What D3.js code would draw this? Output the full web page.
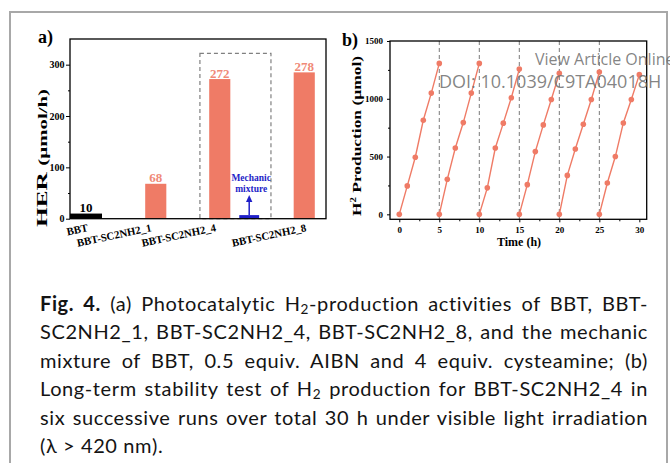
<!DOCTYPE html>
<html>
<head>
<meta charset="utf-8">
<script src="https://cdn.jsdelivr.net/npm/d3@7"></script>
<style>
  body { margin: 0; background: #fff; }
  #wrap { position: relative; width: 670px; height: 463px; overflow: hidden; background: #fff; }
  #wrap svg { position: absolute; left: 0; top: 0; }
  #caption { position: absolute; left: 40px; top: 289px; width: 608px;
             font-family: Lato, "Open Sans", sans-serif; font-size: 20px; letter-spacing: 0.6px; color: #141414; }
  #caption .ln { height: 28.4px; line-height: 28.4px; text-align: justify; text-align-last: justify; }
  #caption .ln.last { text-align-last: left; }
  #caption sub { font-size: 0.68em; vertical-align: -0.25em; line-height: 0; }
</style>
</head>
<body>
<div id="wrap"></div>
<script>
// ---- data: panel a ----
const categories = ["BBT", "BBT-SC2NH2_1", "BBT-SC2NH2_4", "BBT-SC2NH2_8"];
const herBars = [10, 68, 272, 285];          // bar heights as drawn
const herLabels = ["10", "68", "272", "278"]; // printed values
const mechanicValue = 7;
const yTicksA = [0, 100, 200, 300];

// ---- data: panel b ----
const runStarts = [0, 5, 10, 15, 20, 25];
const runHours = [0, 1, 2, 3, 4, 5];
const runValues = [
  [0, 246, 494, 814, 1049, 1306],
  [0, 303, 574, 794, 1049, 1306],
  [0, 229, 574, 789, 1009, 1257],
  [0, 257, 543, 774, 994, 1220],
  [0, 337, 566, 780, 994, 1231],
  [0, 271, 500, 791, 994, 1209]
];
const xTicksB = [0, 5, 10, 15, 20, 25, 30];
const yTicksB = [0, 500, 1000, 1500];

const captionLines = [
  "<b>Fig. 4.</b> (a) Photocatalytic H<sub>2</sub>-production activities of BBT, BBT-",
  "SC2NH2_1, BBT-SC2NH2_4, BBT-SC2NH2_8, and the mechanic",
  "mixture of BBT, 0.5 equiv. AIBN and 4 equiv. cysteamine; (b)",
  "Long-term stability test of H<sub>2</sub> production for BBT-SC2NH2_4 in",
  "six successive runs over total 30 h under visible light irradiation",
  "(\u03bb > 420 nm)."
];

const width = 670;
const height = 463;
const serif = "'Liberation Serif', 'Times New Roman', serif";
const salmon = "#EF7B66";
const salmonText = "#F08A78";

const svg = d3.select("#wrap")
  .append("svg")
  .attr("width", width)
  .attr("height", height);

//Card border
svg.append("rect")
  .attr("x", 10).attr("y", 12)
  .attr("width", 657).attr("height", 480)
  .attr("fill", "none")
  .attr("stroke", "#a8a8a8")
  .attr("stroke-width", 2);

// ================= panel a =================
const xSlots = [0.25, 1.34, 2.34, 3.66];   // category slot along x
const labelSlots = [0.29, 1.28, 2.29, 3.70];
const mechanicSlot = 2.8;
const xA = d3.scaleLinear().domain([0, 4]).range([70, 326]);
const yA = d3.scaleLinear().domain([0, 350]).range([218.7, 39]);

const gA = svg.append("g").attr("font-family", serif).attr("font-weight", "bold");

//dashed box around _4 and mechanic mixture
gA.append("rect")
  .attr("x", xA(2.03))
  .attr("y", yA(322))
  .attr("width", xA(3.14) - xA(2.03))
  .attr("height", yA(0) - yA(322))
  .attr("fill", "none")
  .attr("stroke", "#808080")
  .attr("stroke-width", 1.2)
  .attr("stroke-dasharray", "4,3");

const barData = categories.map((c, i) => ({
  name: c, value: herBars[i], label: herLabels[i], slot: xSlots[i],
  w: i === 0 ? 0.5 : 0.33, color: i === 0 ? "#000" : salmon,
  textColor: i === 0 ? "#000" : salmonText
}));

gA.selectAll(".bar")
  .data(barData)
  .join("rect")
  .attr("class", "bar")
  .attr("x", d => xA(d.slot - d.w / 2))
  .attr("width", d => xA(d.w) - xA(0))
  .attr("y", d => yA(d.value))
  .attr("height", d => yA(0) - yA(d.value))
  .attr("fill", d => d.color);

gA.selectAll(".val")
  .data(barData)
  .join("text")
  .attr("class", "val")
  .attr("x", d => xA(d.slot))
  .attr("y", d => yA(d.value) - 1.5)
  .attr("text-anchor", "middle")
  .attr("font-size", 13)
  .attr("fill", d => d.textColor)
  .text(d => d.label);

//Mechanic mixture
const blue = "#1F1FC8";
gA.append("rect")
  .attr("x", xA(mechanicSlot - 0.155))
  .attr("width", xA(0.31) - xA(0))
  .attr("y", yA(mechanicValue))
  .attr("height", yA(0) - yA(mechanicValue))
  .attr("fill", blue);
const mx = xA(mechanicSlot);
gA.append("line")
  .attr("x1", mx).attr("x2", mx)
  .attr("y1", yA(mechanicValue)).attr("y2", 200)
  .attr("stroke", blue).attr("stroke-width", 1.5);
gA.append("path")
  .attr("d", `M${mx},195 L${mx - 3.2},202 L${mx + 3.2},202 Z`)
  .attr("fill", blue);
gA.append("text").attr("x", mx + 2).attr("y", 181)
  .attr("text-anchor", "middle").attr("font-size", 9.5).attr("fill", blue)
  .text("Mechanic");
gA.append("text").attr("x", mx + 2).attr("y", 192)
  .attr("text-anchor", "middle").attr("font-size", 9.5).attr("fill", blue)
  .text("mixture");

//frame
gA.append("rect")
  .attr("x", 70).attr("y", 39)
  .attr("width", 256).attr("height", yA(0) - 39)
  .attr("fill", "none").attr("stroke", "#000").attr("stroke-width", 1.3);

//y axis
const axA = gA.append("g")
  .attr("transform", `translate(70,0)`)
  .call(d3.axisLeft(yA).tickValues(yTicksA).tickSize(4).tickPadding(1.5));
axA.select(".domain").remove();
axA.selectAll("text").attr("font-size", 10).attr("font-family", serif).attr("font-weight", "bold");
gA.append("g")
  .attr("transform", `translate(70,0)`)
  .call(d3.axisLeft(yA).tickValues([50, 150, 250]).tickSize(2).tickFormat(""))
  .select(".domain").remove();

//category labels
gA.selectAll(".cat")
  .data(barData)
  .join("text")
  .attr("class", "cat")
  .attr("transform", (d, i) => `translate(${xA(labelSlots[i])},231) rotate(-12)`)
  .attr("text-anchor", "end")
  .attr("font-size", 10.8)
  .text(d => d.name);

//y label
const ylabA = gA.append("text")
  .attr("transform", "translate(47,158) rotate(-90)")
  .attr("text-anchor", "middle")
  .attr("textLength", 138)
  .attr("lengthAdjust", "spacingAndGlyphs");
ylabA.append("tspan").attr("font-size", 14).text("HER ");
ylabA.append("tspan").attr("font-size", 11.5).text("(\u00b5mol/h)");

gA.append("text").attr("x", 38).attr("y", 43).attr("font-size", 18).text("a)");

// ================= panel b =================
const xB = d3.scaleLinear().domain([-1.16, 30.92]).range([390, 646.7]);
const yB = d3.scaleLinear().domain([-43, 1500]).range([219.3, 41]);
const gB = svg.append("g").attr("font-family", serif).attr("font-weight", "bold");

//run separators
gB.selectAll(".sep")
  .data(runStarts.slice(1))
  .join("line")
  .attr("class", "sep")
  .attr("x1", d => xB(d)).attr("x2", d => xB(d))
  .attr("y1", yB(1500)).attr("y2", yB(-43))
  .attr("stroke", "#7a7a7a").attr("stroke-width", 1)
  .attr("stroke-dasharray", "4,3");

const runs = runStarts.map((s, r) => runHours.map((h, k) => ({ t: s + h, v: runValues[r][k] })));
const line = d3.line().x(d => xB(d.t)).y(d => yB(d.v));

gB.selectAll(".run")
  .data(runs)
  .join("path")
  .attr("class", "run")
  .attr("d", line)
  .attr("fill", "none")
  .attr("stroke", salmon)
  .attr("stroke-width", 1.4);

gB.selectAll(".pt")
  .data(runs.flat())
  .join("circle")
  .attr("class", "pt")
  .attr("cx", d => xB(d.t))
  .attr("cy", d => yB(d.v))
  .attr("r", 2.8)
  .attr("fill", salmon);

gB.append("rect")
  .attr("x", 390).attr("y", 41)
  .attr("width", 646.7 - 390).attr("height", 219.3 - 41)
  .attr("fill", "none").attr("stroke", "#000").attr("stroke-width", 1.3);

const axBx = gB.append("g")
  .attr("transform", `translate(0,219.3)`)
  .call(d3.axisBottom(xB).tickValues(xTicksB).tickSize(3).tickPadding(4));
axBx.select(".domain").remove();
axBx.selectAll("text").attr("font-size", 9).attr("font-family", serif).attr("font-weight", "bold");
gB.append("g")
  .attr("transform", `translate(0,219.3)`)
  .call(d3.axisBottom(xB).tickValues(d3.range(2.5, 30, 5)).tickSize(2).tickFormat(""))
  .select(".domain").remove();

const axBy = gB.append("g")
  .attr("transform", `translate(390,0)`)
  .call(d3.axisLeft(yB).tickValues(yTicksB).tickFormat(d3.format("d")).tickSize(3).tickPadding(4));
axBy.select(".domain").remove();
axBy.selectAll("text").attr("font-size", 9).attr("font-family", serif).attr("font-weight", "bold");
gB.append("g")
  .attr("transform", `translate(390,0)`)
  .call(d3.axisLeft(yB).tickValues([250, 750, 1250]).tickSize(2).tickFormat(""))
  .select(".domain").remove();

gB.append("text")
  .attr("x", 519).attr("y", 246)
  .attr("text-anchor", "middle")
  .attr("font-size", 12)
  .text("Time (h)");

const ylabB = gB.append("text")
  .attr("transform", "translate(361,136) rotate(-90)")
  .attr("text-anchor", "middle")
  .attr("font-size", 13)
  .attr("textLength", 160)
  .attr("lengthAdjust", "spacingAndGlyphs");
ylabB.append("tspan").text("H");
ylabB.append("tspan").attr("font-size", 8).attr("dy", -5).text("2");
ylabB.append("tspan").attr("dy", 5).text(" Production (\u00b5mol)");

gB.append("text").attr("x", 342).attr("y", 46).attr("font-size", 18).text("b)");

//watermark
const wm = svg.append("g")
  .attr("font-family", "'Open Sans', sans-serif")
  .attr("fill", "#6e6e6e")
  .attr("fill-opacity", 0.85);
wm.append("text").attr("x", 535).attr("y", 65).attr("font-size", 16).text("View Article Online");
wm.append("text").attr("x", 439).attr("y", 88).attr("font-size", 18).text("DOI: 10.1039/C9TA04018H");

// ================= caption =================
d3.select("#wrap")
  .append("div")
  .attr("id", "caption")
  .selectAll(".ln")
  .data(captionLines)
  .join("div")
  .attr("class", (d, i) => i === captionLines.length - 1 ? "ln last" : "ln")
  .html(d => d);
</script>
</body>
</html>
